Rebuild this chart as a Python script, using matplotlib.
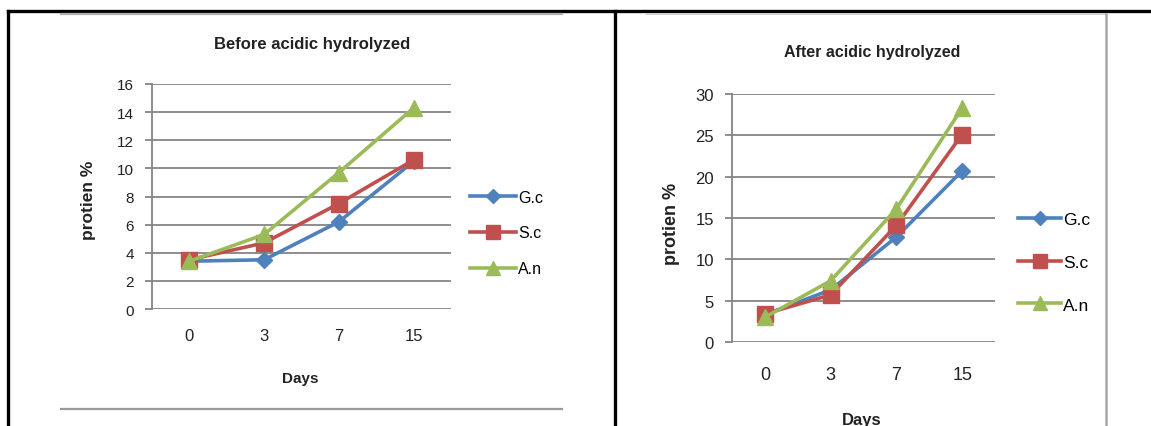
import matplotlib
matplotlib.use("Agg")
import matplotlib.pyplot as plt
from matplotlib.lines import Line2D
from matplotlib import font_manager

names = {f.name for f in font_manager.fontManager.ttflist}
FONT = ['Liberation Sans Narrow', 'DejaVu Sans'] if 'Liberation Sans Narrow' in names else ['Liberation Sans', 'DejaVu Sans']
plt.rcParams['font.family'] = FONT

days = ['0', '3', '7', '15']
series = ['G.c', 'S.c', 'A.n']
before_gc = [3.4, 3.5, 6.2, 10.5]
before_sc = [3.5, 4.7, 7.5, 10.6]
before_an = [3.4, 5.3, 9.7, 14.3]
after_gc = [3.3, 6.3, 12.7, 20.7]
after_sc = [3.4, 5.7, 14.1, 25.1]
after_an = [3.0, 7.4, 16.1, 28.3]

colors = ['#4F81BD', '#C0504D', '#9BBB59']
markers = ['D', 's', '^']
msizes = [8, 11, 11]

W, H = 1151, 427
fig = plt.figure(figsize=(W / 100, H / 100), dpi=100)

def fx(x):
    return x / W

def fy(y):
    return 1 - y / H

def rect(l, r, t, b):
    return [fx(l), fy(b), fx(r) - fx(l), fy(t) - fy(b)]

def hline(x0, x1, y, color, lw):
    fig.add_artist(Line2D([fx(x0), fx(x1)], [fy(y), fy(y)], color=color, lw=lw, transform=fig.transFigure))

def vline(x, y0, y1, color, lw):
    fig.add_artist(Line2D([fx(x), fx(x)], [fy(y0), fy(y1)], color=color, lw=lw, transform=fig.transFigure))

# table borders
hline(8, W, 12, 'black', 2.4)
vline(8, 12, H, 'black', 2.4)
vline(615, 12, H, 'black', 2.4)
# chart frames
hline(61, 562, 15, '#b0b0b0', 1.6)
hline(61, 562, 410, '#9a9a9a', 1.6)
hline(647, 1106, 15, '#d0d0d0', 1.4)
vline(1106, 15, H, '#a8a8a8', 1.8)

def draw(axrect, data, ymax, ystep, fs, tfs, lfs, title, title_xy, ylab_xy, xlab_xy, leg_xy, ls, xpad, hl):
    ax = fig.add_axes(rect(*axrect))
    x = list(range(len(days)))
    handles = []
    for vals, c, m, ms, name in zip(data, colors, markers, msizes, series):
        h, = ax.plot(x, vals, color=c, lw=2.6, marker=m, ms=ms, label=name, zorder=3)
        handles.append(h)
    ax.set_xlim(-0.5, len(days) - 0.5)
    ax.set_ylim(0, ymax)
    ax.set_yticks(range(0, ymax + 1, ystep))
    ax.set_xticks(x)
    ax.set_xticklabels(days)
    ax.yaxis.grid(True, color='#858585', lw=1.3)
    ax.set_axisbelow(True)
    for s in ['top', 'right', 'bottom']:
        ax.spines[s].set_visible(False)
    ax.spines['left'].set_color('#858585')
    ax.spines['left'].set_linewidth(1.3)
    ax.tick_params(axis='y', length=5, color='#858585', width=1.3, pad=8, labelsize=fs, labelcolor='#222222')
    ax.tick_params(axis='x', length=0, pad=xpad, labelsize=fs + 1, labelcolor='#222222')
    ax.set_ylabel('protien %', fontsize=lfs, fontweight='bold', color='#222222')
    ax.set_xlabel('Days', fontsize=fs, fontweight='bold', color='#222222')
    l, r, t, b = axrect
    ax.yaxis.set_label_coords((ylab_xy[0] - l) / (r - l), (b - ylab_xy[1]) / (b - t))
    ax.xaxis.set_label_coords((xlab_xy[0] - l) / (r - l), (b - xlab_xy[1]) / (b - t))
    fig.text(fx(title_xy[0]), fy(title_xy[1]), title, ha='center', va='center',
             fontsize=tfs, fontweight='bold', color='#222222')
    fig.legend(handles=handles, loc='center left', bbox_to_anchor=(fx(leg_xy[0]), fy(leg_xy[1])),
               frameon=False, fontsize=fs + 0.5, handlelength=hl, handletextpad=0.1,
               labelspacing=ls, borderpad=0, borderaxespad=0, markerscale=0.95)
    return ax

draw((152, 451, 85, 310), [before_gc, before_sc, before_an], 16, 2, 11, 12, 12.5,
     'Before acidic hydrolyzed', (312, 45), (96, 200), (300, 372), (470, 234), 1.3, 14, 2.9)
draw((732, 995, 95, 343), [after_gc, after_sc, after_an], 30, 5, 12, 11.5, 13,
     'After acidic hydrolyzed', (872, 52), (680, 224), (862, 413), (1018, 263), 1.6, 17, 2.5)

fig.savefig('out.png', dpi=100)
